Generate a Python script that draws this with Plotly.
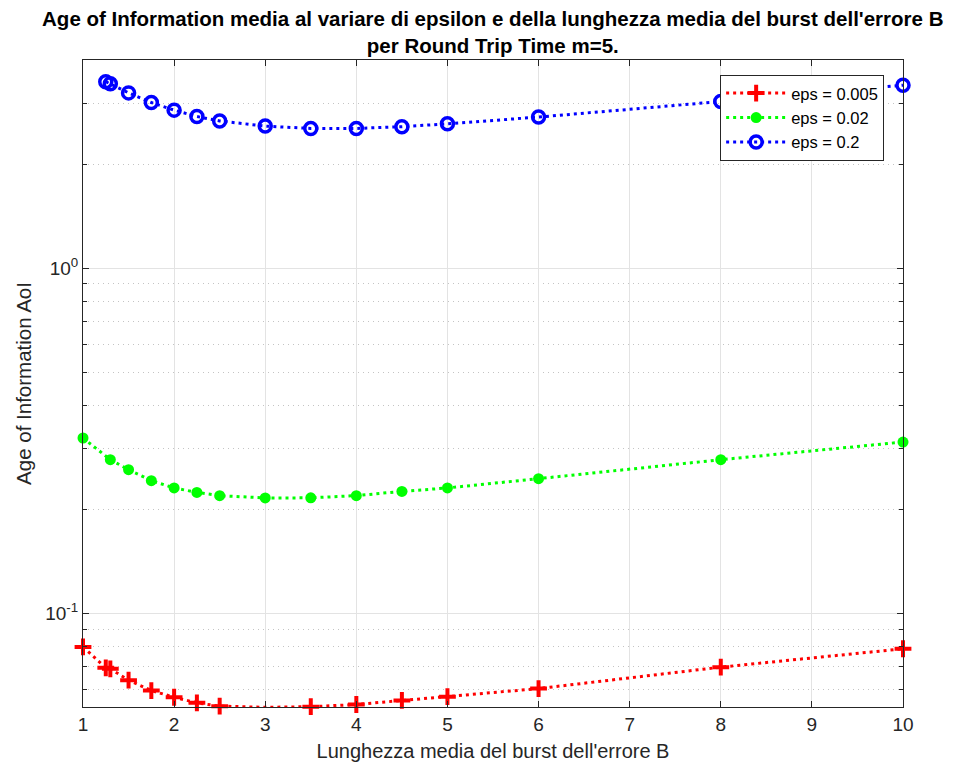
import plotly.graph_objects as go
import numpy as np

x_red = [1, 1.25, 1.3, 1.5, 1.75, 2, 2.25, 2.5, 3, 3.5, 4, 4.5, 5, 6, 8, 10]
y_red = [0.0799, 0.0695, 0.0690, 0.0640, 0.0597, 0.0571, 0.0550, 0.0538, 0.0534, 0.0536, 0.0544, 0.0559, 0.0573, 0.0605, 0.0698, 0.0789]

x_green = [1, 1.3, 1.5, 1.75, 2, 2.25, 2.5, 3, 3.5, 4, 4.5, 5, 6, 8, 10]
y_green = [0.322, 0.2786, 0.2606, 0.2422, 0.2307, 0.224, 0.2192, 0.2158, 0.216, 0.2192, 0.2255, 0.2307, 0.2455, 0.2786, 0.3134]

x_blue = [1.25, 1.3, 1.5, 1.75, 2, 2.25, 2.5, 3, 3.5, 4, 4.5, 5, 6, 8, 10]
y_blue = [3.47, 3.42, 3.22, 3.02, 2.87, 2.75, 2.67, 2.58, 2.54, 2.54, 2.57, 2.62, 2.74, 3.04, 3.39]

names = ["eps = 0.005", "eps = 0.02", "eps = 0.2"]
x_ticks = [1, 2, 3, 4, 5, 6, 7, 8, 9, 10]
y_ticks = [0.1, 1]
y_ticktext = ["10<sup>-1</sup>", "10<sup>0</sup>"]
y_minor = [0.06, 0.07, 0.08, 0.09, 0.2, 0.3, 0.4, 0.5, 0.6, 0.7, 0.8, 0.9, 2, 3, 4]

dash = "3px,4px"
fig = go.Figure()
fig.add_trace(go.Scatter(x=x_red, y=y_red, name=names[0], mode="lines+markers",
                         line=dict(color="#ff0000", width=3, dash=dash),
                         marker=dict(symbol="cross-thin", size=12, line=dict(color="#ff0000", width=4)),
                         cliponaxis=False))
fig.add_trace(go.Scatter(x=x_green, y=y_green, name=names[1], mode="lines+markers",
                         line=dict(color="#00ff00", width=3, dash=dash),
                         marker=dict(symbol="circle", size=11, color="#00ff00"),
                         cliponaxis=False))
fig.add_trace(go.Scatter(x=x_blue, y=y_blue, name=names[2], mode="lines+markers",
                         line=dict(color="#0000ff", width=3, dash=dash),
                         marker=dict(symbol="circle-open", size=12, line=dict(color="#0000ff", width=3.5)),
                         cliponaxis=False))

font = "Liberation Sans, Arial, Helvetica, sans-serif"
fig.update_layout(
    width=955, height=773,
    margin=dict(l=82.5, r=52, t=60, b=66),
    paper_bgcolor="white", plot_bgcolor="white",
    font=dict(family=font, size=19, color="#262626"),
    title=dict(text="<b>Age of Information media al variare di epsilon e della lunghezza media del burst dell'errore B<br>per Round Trip Time m=5.</b>",
               x=0.516, xanchor="center", y=1 - 26 / 773, yanchor="middle",
               font=dict(size=20.5, color="black", family=font)),
    showlegend=True,
    legend=dict(x=0.777, y=0.977, xanchor="left", yanchor="top",
                bgcolor="white", bordercolor="#262626", borderwidth=1,
                font=dict(size=16.5, color="black"), tracegroupgap=0,
                itemwidth=60),
    xaxis=dict(range=[1, 10], tickvals=x_ticks, showgrid=True, gridcolor="#e3e3e3", gridwidth=1,
               ticks="inside", ticklen=6, tickcolor="#262626", showline=True, linecolor="#262626",
               linewidth=1, mirror="ticks", zeroline=False,
               title=dict(text="Lunghezza media del burst dell'errore B", font=dict(size=20), standoff=10),
               tickfont=dict(size=19)),
    yaxis=dict(type="log", range=[np.log10(0.0535), np.log10(4.01)], tickvals=y_ticks, ticktext=y_ticktext,
               showgrid=True, gridcolor="#e3e3e3", gridwidth=1,
               ticks="inside", ticklen=6, tickcolor="#262626", showline=True, linecolor="#262626",
               linewidth=1, mirror="ticks", zeroline=False,
               minor=dict(tickvals=y_minor, showgrid=True, gridcolor="#c4c4c4", griddash="1px,4px",
                          ticks="inside", ticklen=4, tickcolor="#262626"),
               title=dict(text="Age of Information AoI", font=dict(size=20.5), standoff=8),
               tickfont=dict(size=19)),
)
fig.write_html("out.html")
